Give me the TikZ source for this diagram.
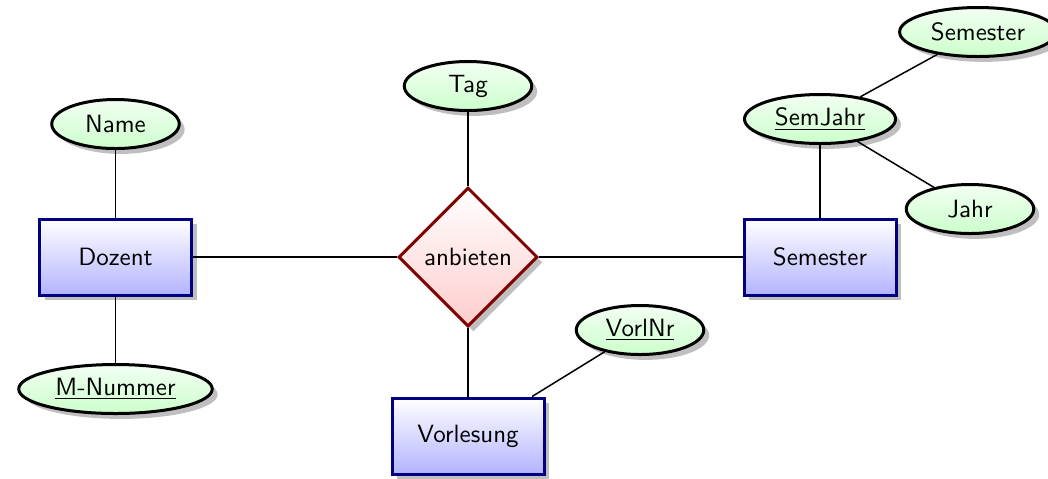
\documentclass[tikz,border=0pt]{standalone}
\usetikzlibrary{positioning,shapes.geometric,shadows}
\tikzstyle{entity}=[
	rectangle,
	very thick,
	draw=blue!50!black,
	top color=white,
	bottom color=blue!30,
	drop shadow,
	minimum width=60.8pt,
	minimum height=30.4pt
]
\tikzstyle{relation}=[
	diamond,
	very thick,
	draw=red!50!black,
	top color=white,
	bottom color=red!20,
	drop shadow,
	minimum size=55.6pt,
	inner sep=1pt
]
\tikzstyle{attribute}=[
	ellipse,
	very thick,
	draw=black,
	top color=green!5,
	bottom color=green!20,
	drop shadow,
	minimum width=51pt,
	minimum height=19.6pt,
	inner ysep=0pt
]
\tikzstyle{link}=[
	semithick
]
\begin{document}
\begin{tikzpicture}[font=\sffamily, on grid]
\useasboundingbox (-46.2pt,102.8pt) rectangle (373pt,-88.4pt);
\node [entity] (Dozent) {Dozent};
\node [relation] (anbieten) [right=141pt of Dozent] {anbieten}
	edge [link] (Dozent);
\node [entity] (Semester) [right=140.8pt of anbieten] {Semester}
	edge [link] (anbieten);
\node [entity] (Vorlesung) [below=71.6pt of anbieten] {Vorlesung}
	edge [link] (anbieten);
\node [attribute] (Name) [above=53.2pt of Dozent] {Name}
	edge [link] (Dozent);
\node [attribute] (MNummer) [below=52.8pt of Dozent] {\underline{M-Nummer}}
	edge [link] (Dozent);
\node [attribute] (Tag) [above=68.4pt of anbieten] {Tag}
	edge [link] (anbieten);
\node [attribute] (VorlNr) [above right=42.4pt and 68.8pt of Vorlesung] {\underline{VorlNr}}
	edge [link] (Vorlesung);
\node [attribute] (SemJahr) [above=55.2pt of Semester] {\underline{SemJahr}}
	edge [link] (Semester);
\node [attribute] (SemName) [above right=34.8pt and 63.2pt of SemJahr] {Semester}
	edge [link] (SemJahr);
\node [attribute] (Jahr) [below right=36pt and 60pt of SemJahr] {Jahr}
	edge [link] (SemJahr);
\end{tikzpicture}
\end{document}
